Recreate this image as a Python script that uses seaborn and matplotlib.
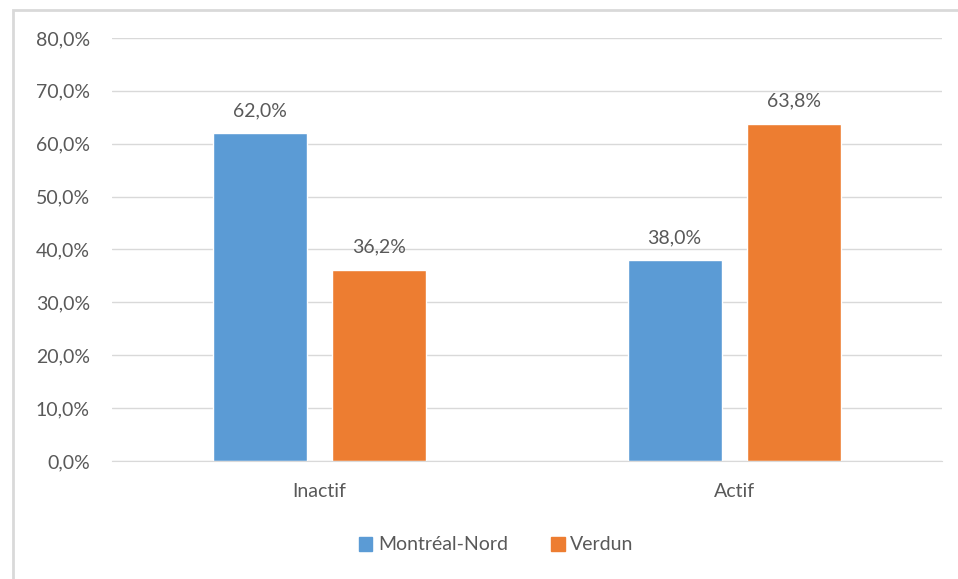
import matplotlib
matplotlib.use("Agg")
import matplotlib.pyplot as plt
import matplotlib.ticker as mticker
import seaborn as sns
import pandas as pd

# Data
categories = ["Inactif", "Actif"]
montreal_nord = [62.0, 38.0]
verdun = [36.2, 63.8]
series_names = ["Montréal-Nord", "Verdun"]
colors = ["#5B9BD5", "#ED7D31"]

df = pd.DataFrame({
    "cat": categories * 2,
    "val": montreal_nord + verdun,
    "series": [series_names[0]] * 2 + [series_names[1]] * 2,
})

sns.set_style("white")
plt.rcParams["font.family"] = ["Lato", "DejaVu Sans"]
text_col = "#595959"
fs = 14

fig = plt.figure(figsize=(9.58, 5.79), dpi=100)
ax = fig.add_axes([0.1169, 0.2038, 0.8664, 0.7306])

sns.barplot(data=df, x="cat", y="val", hue="series", palette=colors,
            width=0.577, gap=0.214, ax=ax, legend=False, saturation=1)

ax.set_xlim(-0.5, 1.5)
ax.set_ylim(0, 80)
ax.set_yticks(range(0, 81, 10))
ax.yaxis.set_major_formatter(mticker.FuncFormatter(lambda v, p: f"{v:.1f}%".replace(".", ",")))
ax.grid(axis="y", color="#D9D9D9", linewidth=1)
ax.set_axisbelow(True)
for s in ["top", "right", "left"]:
    ax.spines[s].set_visible(False)
ax.spines["bottom"].set_color("#D9D9D9")
ax.tick_params(axis="both", length=0, labelsize=fs, colors=text_col)
ax.tick_params(axis="y", pad=16)
ax.tick_params(axis="x", pad=16)
ax.set_xlabel("")
ax.set_ylabel("")

for cont in ax.containers:
    labels = [f"{b.get_height():.1f}%".replace(".", ",") for b in cont]
    ax.bar_label(cont, labels=labels, padding=10, fontsize=fs, color=text_col)

handles = [plt.Rectangle((0, 0), 1, 1, color=c) for c in colors]
fig.legend(handles, series_names, loc="center", bbox_to_anchor=(0.518, 1 - 545 / 579),
           ncol=2, frameon=False, fontsize=fs, labelcolor=text_col,
           handlelength=0.7, handleheight=0.7, handletextpad=0.3, columnspacing=2.2)

# chart border (partly cropped like the screenshot)
fig.add_artist(plt.Rectangle((13 / 958, -0.1), 1.2, 1 - 10 / 579 + 0.1,
                             transform=fig.transFigure, fill=False,
                             edgecolor="#D9D9D9", linewidth=2))

fig.savefig("out.png", dpi=100)
